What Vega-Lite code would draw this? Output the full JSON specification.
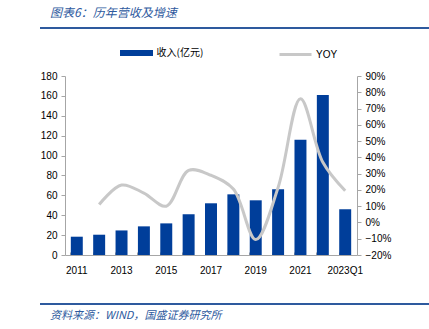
{
  "$schema": "https://vega.github.io/schema/vega-lite/v6.json",
  "background": "white",
  "padding": {"left": 15, "top": 7, "right": 11, "bottom": 4},
  "config": {"font": "Liberation Sans", "view": {"stroke": null}},
  "center": true,
  "spacing": 19,
  "vconcat": [
    {
      "width": 403,
      "height": 2,
      "view": {"fill": "#2e5a9e", "stroke": null},
      "title": {"text": "图表6：历年营收及增速", "anchor": "start", "dx": 10, "offset": 7, "font": "Noto Sans CJK SC", "fontStyle": "italic", "fontSize": 12, "fontWeight": "normal", "color": "#2e5a9e"},
      "data": {"values": [{}]},
      "mark": {"type": "rect", "color": "#2e5a9e"},
      "encoding": {}
    },
    {
      "width": 292,
      "height": 179,
      "data": {"values": [
        {"period": "2011", "revenue": 18.4, "yoy": null},
        {"period": "2012", "revenue": 20.4, "yoy": 0.11},
        {"period": "2013", "revenue": 24.7, "yoy": 0.23},
        {"period": "2014", "revenue": 28.8, "yoy": 0.18},
        {"period": "2015", "revenue": 31.8, "yoy": 0.10},
        {"period": "2016", "revenue": 41, "yoy": 0.32},
        {"period": "2017", "revenue": 52, "yoy": 0.29},
        {"period": "2018", "revenue": 61, "yoy": 0.205},
        {"period": "2019", "revenue": 55, "yoy": -0.105},
        {"period": "2020", "revenue": 66, "yoy": 0.215},
        {"period": "2021", "revenue": 116, "yoy": 0.76},
        {"period": "2022", "revenue": 161, "yoy": 0.37},
        {"period": "2023Q1", "revenue": 46, "yoy": 0.195}
      ]},
      "encoding": {
        "x": {
          "field": "period", "type": "ordinal", "sort": null,
          "scale": {"paddingInner": 0.465, "paddingOuter": 0.26},
          "axis": {
            "title": " ", "titleFontSize": 9, "titlePadding": 0,
            "labelAngle": 0, "labelFontSize": 10, "labelColor": "#000000",
            "labelPadding": 13,
            "labelExpr": "indexof(['2011','2013','2015','2017','2019','2021','2023Q1'], datum.value) >= 0 ? datum.value : ''",
            "bandPosition": 0, "tickSize": -3, "tickColor": "#a6a6a6", "domainColor": "#a6a6a6",
            "labelOverlap": false
          }
        }
      },
      "layer": [
        {
          "mark": {"type": "bar", "color": "#003e9a"},
          "encoding": {
            "y": {
              "field": "revenue", "type": "quantitative",
              "scale": {"domain": [0, 180]},
              "axis": {"title": null, "values": [0,20,40,60,80,100,120,140,160,180], "grid": false, "labelFontSize": 10, "labelColor": "#000000", "domainColor": "#a6a6a6", "tickColor": "#a6a6a6", "tickSize": 4, "labelPadding": 4, "minExtent": 50}
            },
            "fill": {
              "datum": "收入(亿元)", "type": "nominal",
              "scale": {"range": ["#003e9a"]},
              "legend": {"title": null, "orient": "none", "legendX": 66.5, "legendY": -28, "symbolType": "M-3.3,-0.6H3.3V0.6H-3.3Z", "symbolSize": 100, "labelFont": "Noto Sans CJK SC", "labelFontSize": 10, "labelColor": "#000000", "labelOffset": 15, "symbolStrokeWidth": 0}
            }
          }
        },
        {
          "mark": {"type": "line", "interpolate": "catmull-rom", "strokeWidth": 3, "color": "#c8c8c8"},
          "encoding": {
            "y": {
              "field": "yoy", "type": "quantitative",
              "scale": {"domain": [-0.2, 0.9]},
              "axis": {"title": null, "orient": "right", "format": ".0%", "values": [-0.2,-0.1,0,0.1,0.2,0.3,0.4,0.5,0.6,0.7,0.8,0.9], "grid": false, "labelFontSize": 10, "labelColor": "#000000", "domainColor": "#a6a6a6", "tickColor": "#a6a6a6", "tickSize": 4, "labelPadding": 4, "minExtent": 61}
            },
            "stroke": {
              "datum": "YOY", "type": "nominal",
              "scale": {"range": ["#c8c8c8"]},
              "legend": {"title": null, "orient": "none", "legendX": 224, "legendY": -28, "symbolType": "M-3.2,0H3.2", "symbolSize": 100, "symbolStrokeWidth": 3, "symbolFillColor": "transparent", "labelFontSize": 10, "labelColor": "#000000", "labelOffset": 14}
            }
          }
        }
      ],
      "resolve": {"scale": {"y": "independent", "fill": "independent", "stroke": "independent"}}
    },
    {
      "width": 403,
      "height": 2,
      "view": {"fill": "#2e5a9e", "stroke": null},
      "title": {"text": "资料来源：WIND，国盛证券研究所", "orient": "bottom", "anchor": "start", "dx": 10, "offset": 5, "font": "Noto Sans CJK SC", "fontStyle": "italic", "fontSize": 11, "fontWeight": "normal", "color": "#2e5a9e"},
      "data": {"values": [{}]},
      "mark": {"type": "rect", "color": "#2e5a9e"},
      "encoding": {}
    }
  ]
}
